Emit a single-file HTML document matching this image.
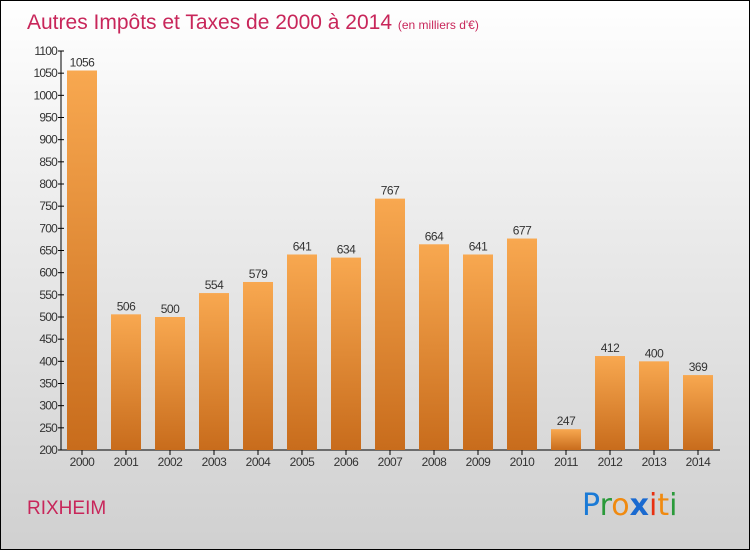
<!DOCTYPE html>
<html><head><meta charset="utf-8"><style>
body{margin:0}
#c{position:relative;width:748px;height:548px;border:1px solid #000;background:linear-gradient(#ffffff,#f0f0f0 30%,#d0d0d0);overflow:hidden;font-family:"Liberation Sans",sans-serif}
</style></head><body>
<div id="c">
<svg width="748" height="548" viewBox="1 1 748 548">
<defs><linearGradient id="g" x1="0" y1="0" x2="0" y2="1"><stop offset="0" stop-color="#f8a850"/><stop offset="1" stop-color="#c86c1c"/></linearGradient></defs>
<text x="27" y="29" font-size="21" fill="#c8265a">Autres Impôts et Taxes de 2000 à 2014 <tspan font-size="12">(en milliers d'€)</tspan></text>
<g id="axes"></g><g id="bars"></g>
<text x="27" y="514" font-size="19" fill="#c8265a">RIXHEIM</text>
<g font-size="30" font-family="'DejaVu Sans',sans-serif">
<text x="582" y="515"><tspan fill="#1a7ad6">P</tspan><tspan fill="#2a9a3a">r</tspan><tspan fill="#f08a10">o</tspan><tspan fill="#1a6ad0" font-weight="bold">x</tspan><tspan fill="#e83010">i</tspan><tspan fill="#f08a10">t</tspan><tspan fill="#2a9a3a">i</tspan></text>
</g>
</svg></div>
<script>
const years=["2000","2001","2002","2003","2004","2005","2006","2007","2008","2009","2010","2011","2012","2013","2014"];
const values=[1056,506,500,554,579,641,634,767,664,641,677,247,412,400,369];
const ticks=[200,250,300,350,400,450,500,550,600,650,700,750,800,850,900,950,1000,1050,1100];
const NS="http://www.w3.org/2000/svg";
const y=v=>450-(v-200)*399/900;
const x=i=>82+i*44;
const ax=document.getElementById('axes'),bg=document.getElementById('bars');
function el(t,a,p){const e=document.createElementNS(NS,t);for(const k in a)e.setAttribute(k,a[k]);p.appendChild(e);return e;}
let l=el('line',{x1:61,y1:51,x2:61,y2:450,stroke:'#000'},ax);


l=el('line',{x1:61,y1:450,x2:720,y2:450,stroke:'#000'},ax);


ticks.forEach(t=>{
 el('line',{x1:58,y1:y(t),x2:64,y2:y(t),stroke:'#000'},ax);
 const tx=el('text',{x:57,y:y(t)+4,'font-size':12,'text-anchor':'end',fill:'#333','letter-spacing':'-0.8'},ax);
 tx.textContent=t;
 
 
});
years.forEach((yr,i)=>{
 const r=el('rect',{x:x(i)-15,y:y(values[i]),width:30,height:450-y(values[i]),fill:'url(#g)'},bg);
 
 
 const v=el('text',{x:x(i),y:y(values[i])-4,'font-size':12,'text-anchor':'middle',fill:'#333','letter-spacing':'-0.5'},bg);
 v.textContent=values[i];
 
 
 el('line',{x1:x(i),y1:450,x2:x(i),y2:455,stroke:'#000'},ax);
 const t=el('text',{x:x(i),y:466,'font-size':12,'text-anchor':'middle',fill:'#333','letter-spacing':'-0.5'},ax);
 t.textContent=yr;
 
 
});
</script>
</body></html>
